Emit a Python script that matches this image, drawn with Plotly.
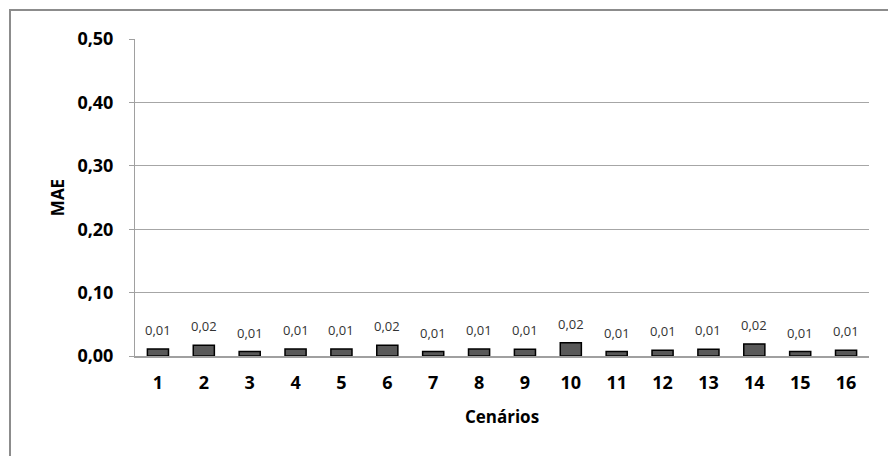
import plotly.graph_objects as go

categories = [str(i) for i in range(1, 17)]
mae = [0.011, 0.017, 0.007, 0.011, 0.011, 0.017, 0.007, 0.011,
       0.0105, 0.021, 0.007, 0.009, 0.0105, 0.019, 0.007, 0.009]
y_ticks = [0, 0.1, 0.2, 0.3, 0.4, 0.5]
y_tick_labels = ["0,00", "0,10", "0,20", "0,30", "0,40", "0,50"]

W, H = 888, 456
L, R, T, B = 135, 19, 39, 100
pw, ph = W - L - R, H - T - B

xpos = list(range(len(categories)))
FONT = "Open Sans, DejaVu Sans, sans-serif"

fig = go.Figure()
fig.add_trace(go.Bar(
    x=xpos, y=mae,
    marker=dict(color="#595959", line=dict(color="#000000", width=1.5)),
    width=0.46,
))

for i, v in zip(xpos, mae):
    fig.add_annotation(
        x=i, y=v, xref="x", yref="y",
        text=f"{v:.2f}".replace(".", ","),
        showarrow=False, yanchor="bottom", yshift=8,
        font=dict(family=FONT, size=13, color="#333333"),
    )

# outer chart border (left/top visible, extends beyond canvas)
fig.add_shape(
    type="rect", xref="paper", yref="paper",
    x0=(10 - L) / pw, x1=(W + 20 - L) / pw,
    y0=-(H + 20 - T - ph) / ph, y1=(H - B - 10) / ph,
    line=dict(color="#8c8c8c", width=2), fillcolor="rgba(0,0,0,0)", layer="below",
)

fig.update_layout(
    width=W, height=H,
    margin=dict(l=L, r=R, t=T, b=B, autoexpand=False),
    paper_bgcolor="white", plot_bgcolor="white",
    showlegend=False,
    xaxis=dict(
        range=[-0.5, len(categories) - 0.5], automargin=False,
        tickvals=xpos, ticktext=[f"<b>{c}</b>" for c in categories],
        showgrid=False, showline=True, linecolor="#a0a0a0", linewidth=1.5,
        ticks="", ticklabelstandoff=10,
        tickfont=dict(family=FONT, size=18, color="#000000"),
        zeroline=False,
        title=dict(text="<b>Cenários</b>", font=dict(family=FONT, size=17, color="#000000"), standoff=18),
    ),
    yaxis=dict(
        range=[0, 0.5], tickvals=y_ticks, ticktext=[f"<b>{t}</b>" for t in y_tick_labels],
        automargin=False,
        showgrid=True, gridcolor="#a6a6a6", gridwidth=1,
        showline=True, linecolor="#a0a0a0", linewidth=1,
        ticks="outside", ticklen=5, tickcolor="#a0a0a0", ticklabelstandoff=12,
        tickfont=dict(family=FONT, size=18, color="#000000"),
        zeroline=False,
        title=dict(text="<b>MAE</b>", font=dict(family=FONT, size=17, color="#000000"), standoff=8),
    ),
)

fig.write_html("out.html", config={"displayModeBar": False},
               post_script="document.body.style.margin='0';")
